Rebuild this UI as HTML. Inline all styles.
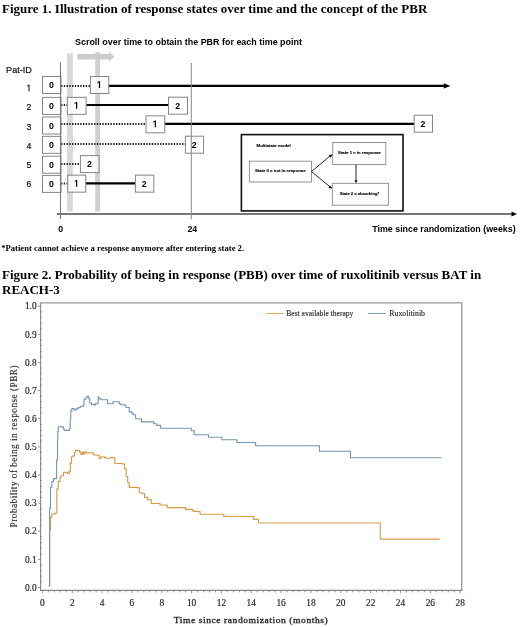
<!DOCTYPE html>
<html><head><meta charset="utf-8"><title>Figures</title>
<style>
html,body{margin:0;padding:0;background:#fff;width:520px;height:627px;overflow:hidden}
svg{display:block;will-change:transform}
.t1{font-family:"Liberation Serif",serif;font-weight:bold;font-size:13px;fill:#000}
.t2{font-family:"Liberation Serif",serif;font-weight:bold;fill:#000}
.tr{font-family:"Liberation Serif",serif;fill:#222}
.sb{font-family:"Liberation Sans",sans-serif;font-weight:bold;fill:#000}
.sr{font-family:"Liberation Sans",sans-serif}
</style></head>
<body>
<svg width="520" height="627" viewBox="0 0 520 627">
<rect width="520" height="627" fill="#fff"/>
<text x="2" y="12.7" class="t1">Figure 1. Illustration of response states over time and the concept of the PBR</text>
<text x="75" y="44.8" class="sb" font-size="8.95">Scroll over time to obtain the PBR for each time point</text>
<rect x="67" y="53.5" width="5.8" height="158" fill="#d9d9d9"/>
<rect x="95.2" y="52.3" width="4.9" height="159.2" fill="#d0d0d0"/>
<path d="M77.4 54 H108.7 V51.7 L114.4 56.7 L108.7 61.7 V59.5 H77.4 Z" fill="#cccccc"/>
<text transform="translate(6.1 72.7) scale(0.92 1)" class="sr" font-size="9.9" fill="#111" stroke="#111" stroke-width="0.22">Pat-ID</text>
<path d="M28.64 91.3 L28.64 85.44 L27.28 86.52 L27.28 85.71 L28.7 84.63 L29.41 84.63 L29.41 91.3 Z" fill="#111" stroke="#111" stroke-width="0.22"/>
<text transform="translate(31.3 110.4) scale(0.9 1)" class="sr" font-size="9.7" fill="#111" stroke="#111" stroke-width="0.22" text-anchor="end">2</text>
<text transform="translate(31.3 129.5) scale(0.9 1)" class="sr" font-size="9.7" fill="#111" stroke="#111" stroke-width="0.22" text-anchor="end">3</text>
<text transform="translate(31.3 148.6) scale(0.9 1)" class="sr" font-size="9.7" fill="#111" stroke="#111" stroke-width="0.22" text-anchor="end">4</text>
<text transform="translate(31.3 167.8) scale(0.9 1)" class="sr" font-size="9.7" fill="#111" stroke="#111" stroke-width="0.22" text-anchor="end">5</text>
<text transform="translate(31.3 186.8) scale(0.9 1)" class="sr" font-size="9.7" fill="#111" stroke="#111" stroke-width="0.22" text-anchor="end">6</text>
<line x1="57" y1="213.9" x2="512" y2="213.9" stroke="#777" stroke-width="2"/>
<path d="M511.5 211.4 L517 213.9 L511.5 216.5 Z" fill="#000"/>
<text x="60.8" y="232" class="sb" font-size="8.8" text-anchor="middle">0</text>
<text x="192.3" y="232.2" class="sb" font-size="8.8" text-anchor="middle">24</text>
<text x="372.3" y="231.7" class="sb" font-size="8.85">Time since randomization (weeks)</text>
<line x1="61" y1="85.9" x2="90.4" y2="85.9" stroke="#222" stroke-width="2" stroke-dasharray="1.4 1.35"/>
<line x1="108.8" y1="85.9" x2="445" y2="85.9" stroke="#000" stroke-width="2.2"/>
<line x1="61" y1="105" x2="67.3" y2="105" stroke="#222" stroke-width="2" stroke-dasharray="1.4 1.35"/>
<line x1="86.1" y1="105" x2="168.5" y2="105" stroke="#000" stroke-width="2.2"/>
<line x1="61" y1="123.9" x2="146" y2="123.9" stroke="#222" stroke-width="2" stroke-dasharray="1.4 1.35"/>
<line x1="164.8" y1="123.9" x2="414.2" y2="123.9" stroke="#000" stroke-width="2.2"/>
<line x1="61" y1="144.1" x2="185.4" y2="144.1" stroke="#222" stroke-width="2" stroke-dasharray="1.4 1.35"/>
<line x1="61" y1="164.1" x2="80.4" y2="164.1" stroke="#222" stroke-width="2" stroke-dasharray="1.4 1.35"/>
<line x1="61" y1="183.4" x2="67.7" y2="183.4" stroke="#222" stroke-width="2" stroke-dasharray="1.4 1.35"/>
<line x1="85.7" y1="183.4" x2="135.4" y2="183.4" stroke="#000" stroke-width="2.2"/>
<rect x="42.5" y="76.5" width="18.5" height="17" fill="#fff" fill-opacity="0.75" stroke="#858585" stroke-width="1"/>
<text transform="translate(51.45 88) scale(0.9 1)" class="sb" font-size="9.8" text-anchor="middle">0</text>
<rect x="90.4" y="76.5" width="18.4" height="17" fill="#fff" fill-opacity="0.75" stroke="#858585" stroke-width="1"/>
<path d="M98.91 88 L98.91 82.4 L97.45 83.41 L97.45 82.35 L98.97 81.26 L100.12 81.26 L100.12 88 Z" fill="#000"/>
<rect x="42.5" y="97.4" width="18.5" height="17" fill="#fff" fill-opacity="0.75" stroke="#858585" stroke-width="1"/>
<text transform="translate(51.45 108.9) scale(0.9 1)" class="sb" font-size="9.8" text-anchor="middle">0</text>
<rect x="67.3" y="97.35" width="18.8" height="17" fill="#fff" fill-opacity="0.75" stroke="#858585" stroke-width="1"/>
<path d="M76.01 108.85 L76.01 103.25 L74.55 104.26 L74.55 103.2 L76.07 102.11 L77.22 102.11 L77.22 108.85 Z" fill="#000"/>
<rect x="168.5" y="97.2" width="19" height="17" fill="#fff" fill-opacity="0.75" stroke="#858585" stroke-width="1"/>
<text transform="translate(177.7 108.7) scale(0.9 1)" class="sb" font-size="9.8" text-anchor="middle">2</text>
<rect x="42.5" y="117" width="18.5" height="17" fill="#fff" fill-opacity="0.75" stroke="#858585" stroke-width="1"/>
<text transform="translate(51.45 128.5) scale(0.9 1)" class="sb" font-size="9.8" text-anchor="middle">0</text>
<rect x="146" y="115.85" width="18.8" height="17" fill="#fff" fill-opacity="0.75" stroke="#858585" stroke-width="1"/>
<path d="M154.71 127.35 L154.71 121.75 L153.25 122.76 L153.25 121.7 L154.77 120.61 L155.92 120.61 L155.92 127.35 Z" fill="#000"/>
<rect x="414.2" y="115.2" width="18.3" height="17" fill="#fff" fill-opacity="0.75" stroke="#858585" stroke-width="1"/>
<text transform="translate(423.05 126.7) scale(0.9 1)" class="sb" font-size="9.8" text-anchor="middle">2</text>
<rect x="42.5" y="136.35" width="18.5" height="17" fill="#fff" fill-opacity="0.75" stroke="#858585" stroke-width="1"/>
<text transform="translate(51.45 147.85) scale(0.9 1)" class="sb" font-size="9.8" text-anchor="middle">0</text>
<rect x="185.4" y="136.2" width="18.2" height="17" fill="#fff" fill-opacity="0.75" stroke="#858585" stroke-width="1"/>
<text transform="translate(194.2 147.7) scale(0.9 1)" class="sb" font-size="9.8" text-anchor="middle">2</text>
<rect x="42.5" y="156.2" width="18.5" height="17" fill="#fff" fill-opacity="0.75" stroke="#858585" stroke-width="1"/>
<text transform="translate(51.45 167.7) scale(0.9 1)" class="sb" font-size="9.8" text-anchor="middle">0</text>
<rect x="80.4" y="155.6" width="18.6" height="17" fill="#fff" fill-opacity="0.75" stroke="#858585" stroke-width="1"/>
<text transform="translate(89.4 167.1) scale(0.9 1)" class="sb" font-size="9.8" text-anchor="middle">2</text>
<rect x="42.5" y="175.4" width="18.5" height="17" fill="#fff" fill-opacity="0.75" stroke="#858585" stroke-width="1"/>
<text transform="translate(51.45 186.9) scale(0.9 1)" class="sb" font-size="9.8" text-anchor="middle">0</text>
<rect x="67.7" y="175.15" width="18" height="17" fill="#fff" fill-opacity="0.75" stroke="#858585" stroke-width="1"/>
<path d="M76.01 186.65 L76.01 181.05 L74.55 182.06 L74.55 181 L76.07 179.91 L77.22 179.91 L77.22 186.65 Z" fill="#000"/>
<rect x="135.4" y="175.15" width="18.4" height="17" fill="#fff" fill-opacity="0.75" stroke="#858585" stroke-width="1"/>
<text transform="translate(144.3 186.65) scale(0.9 1)" class="sb" font-size="9.8" text-anchor="middle">2</text>
<line x1="60.5" y1="62.5" x2="60.5" y2="219" stroke="#777" stroke-width="1"/>
<line x1="191.3" y1="63" x2="191.3" y2="219.3" stroke="#888" stroke-width="1"/>
<path d="M443.8 83.2 L450.5 85.9 L443.8 88.6 Z" fill="#000"/>
<rect x="241.4" y="134.6" width="161.6" height="76.3" fill="#fff" stroke="#111" stroke-width="1.6"/>
<text transform="translate(256.6 147.4) scale(0.5)" class="sb" font-size="8.6" stroke="#000" stroke-width="0.25" textLength="68.2" lengthAdjust="spacingAndGlyphs">Multistate model</text>
<rect x="249.4" y="161.2" width="62.1" height="20.8" fill="none" stroke="#888" stroke-width="0.9"/>
<text transform="translate(254.9 172.4) scale(0.5)" class="sb" font-size="8.54" stroke="#000" stroke-width="0.25" textLength="101.4" lengthAdjust="spacingAndGlyphs">State 0 = not in response</text>
<rect x="332.7" y="142.5" width="53.1" height="22.1" fill="none" stroke="#888" stroke-width="0.9"/>
<text transform="translate(338.1 153.6) scale(0.5)" class="sb" font-size="8.5" stroke="#000" stroke-width="0.25" textLength="85.2" lengthAdjust="spacingAndGlyphs">State 1 = in response</text>
<rect x="332.3" y="183.3" width="56.3" height="21.9" fill="none" stroke="#888" stroke-width="0.9"/>
<text transform="translate(339.7 194.5) scale(0.5)" class="sb" font-size="8.3" stroke="#000" stroke-width="0.25" textLength="78.8" lengthAdjust="spacingAndGlyphs">State 2 = absorbing*</text>
<path d="M311.5 171.6 L330.5 155.6 M311.5 171.6 L330.5 187.2 M356 164.6 V181" stroke="#111" stroke-width="0.9" fill="none"/>
<path d="M332.7 154.2 L328.6 155.2 L330.6 157.8 Z M332.3 188.6 L330.4 185.4 L328.3 187.9 Z M356 183.3 L354.4 180.2 L357.6 180.2 Z" fill="#111"/>
<text x="1.2" y="250.8" class="t2" font-size="8.63">*Patient cannot achieve a response anymore after entering state 2.</text>
<text x="2" y="278.8" class="t1">Figure 2. Probability of being in response (PBB) over time of ruxolitinib versus BAT in</text>
<text x="2" y="294.3" class="t1">REACH-3</text>
<path d="M40.6 302.8 H461.8 V590.4" fill="none" stroke="#999" stroke-width="1.3"/>
<line x1="40.6" y1="302.8" x2="40.6" y2="590.9" stroke="#888" stroke-width="1.1"/>
<line x1="40.1" y1="590.4" x2="462.40000000000003" y2="590.4" stroke="#888" stroke-width="1.1"/>
<path d="M38 587.5 H40.6 M40 581.87 H41.8 M40 576.25 H41.8 M40 570.62 H41.8 M40 565 H41.8 M38 559.37 H40.6 M40 553.74 H41.8 M40 548.12 H41.8 M40 542.49 H41.8 M40 536.87 H41.8 M38 531.24 H40.6 M40 525.61 H41.8 M40 519.99 H41.8 M40 514.36 H41.8 M40 508.74 H41.8 M38 503.11 H40.6 M40 497.48 H41.8 M40 491.86 H41.8 M40 486.23 H41.8 M40 480.61 H41.8 M38 474.98 H40.6 M40 469.35 H41.8 M40 463.73 H41.8 M40 458.1 H41.8 M40 452.48 H41.8 M38 446.85 H40.6 M40 441.22 H41.8 M40 435.6 H41.8 M40 429.97 H41.8 M40 424.35 H41.8 M38 418.72 H40.6 M40 413.09 H41.8 M40 407.47 H41.8 M40 401.84 H41.8 M40 396.22 H41.8 M38 390.59 H40.6 M40 384.96 H41.8 M40 379.34 H41.8 M40 373.71 H41.8 M40 368.09 H41.8 M38 362.46 H40.6 M40 356.83 H41.8 M40 351.21 H41.8 M40 345.58 H41.8 M40 339.96 H41.8 M38 334.33 H40.6 M40 328.7 H41.8 M40 323.08 H41.8 M40 317.45 H41.8 M40 311.83 H41.8 M38 306.2 H40.6 M42.4 590.4 V593.2 M48.37 590.4 V592.4 M54.34 590.4 V592.4 M60.3 590.4 V592.4 M66.27 590.4 V592.4 M72.24 590.4 V593.2 M78.21 590.4 V592.4 M84.18 590.4 V592.4 M90.14 590.4 V592.4 M96.11 590.4 V592.4 M102.08 590.4 V593.2 M108.05 590.4 V592.4 M114.02 590.4 V592.4 M119.98 590.4 V592.4 M125.95 590.4 V592.4 M131.92 590.4 V593.2 M137.89 590.4 V592.4 M143.86 590.4 V592.4 M149.82 590.4 V592.4 M155.79 590.4 V592.4 M161.76 590.4 V593.2 M167.73 590.4 V592.4 M173.7 590.4 V592.4 M179.66 590.4 V592.4 M185.63 590.4 V592.4 M191.6 590.4 V593.2 M197.57 590.4 V592.4 M203.54 590.4 V592.4 M209.5 590.4 V592.4 M215.47 590.4 V592.4 M221.44 590.4 V593.2 M227.41 590.4 V592.4 M233.38 590.4 V592.4 M239.34 590.4 V592.4 M245.31 590.4 V592.4 M251.28 590.4 V593.2 M257.25 590.4 V592.4 M263.22 590.4 V592.4 M269.18 590.4 V592.4 M275.15 590.4 V592.4 M281.12 590.4 V593.2 M287.09 590.4 V592.4 M293.06 590.4 V592.4 M299.02 590.4 V592.4 M304.99 590.4 V592.4 M310.96 590.4 V593.2 M316.93 590.4 V592.4 M322.9 590.4 V592.4 M328.86 590.4 V592.4 M334.83 590.4 V592.4 M340.8 590.4 V593.2 M346.77 590.4 V592.4 M352.74 590.4 V592.4 M358.7 590.4 V592.4 M364.67 590.4 V592.4 M370.64 590.4 V593.2 M376.61 590.4 V592.4 M382.58 590.4 V592.4 M388.54 590.4 V592.4 M394.51 590.4 V592.4 M400.48 590.4 V593.2 M406.45 590.4 V592.4 M412.42 590.4 V592.4 M418.38 590.4 V592.4 M424.35 590.4 V592.4 M430.32 590.4 V593.2 M436.29 590.4 V592.4 M442.26 590.4 V592.4 M448.22 590.4 V592.4 M454.19 590.4 V592.4 M460.16 590.4 V593.2" stroke="#777" stroke-width="0.8" fill="none"/>
<text x="36.6" y="590.7" class="tr" font-size="9.4" text-anchor="end" stroke="#222" stroke-width="0.15">0.0</text>
<text x="36.6" y="562.57" class="tr" font-size="9.4" text-anchor="end" stroke="#222" stroke-width="0.15">0.1</text>
<text x="36.6" y="534.44" class="tr" font-size="9.4" text-anchor="end" stroke="#222" stroke-width="0.15">0.2</text>
<text x="36.6" y="506.31" class="tr" font-size="9.4" text-anchor="end" stroke="#222" stroke-width="0.15">0.3</text>
<text x="36.6" y="478.18" class="tr" font-size="9.4" text-anchor="end" stroke="#222" stroke-width="0.15">0.4</text>
<text x="36.6" y="450.05" class="tr" font-size="9.4" text-anchor="end" stroke="#222" stroke-width="0.15">0.5</text>
<text x="36.6" y="421.92" class="tr" font-size="9.4" text-anchor="end" stroke="#222" stroke-width="0.15">0.6</text>
<text x="36.6" y="393.79" class="tr" font-size="9.4" text-anchor="end" stroke="#222" stroke-width="0.15">0.7</text>
<text x="36.6" y="365.66" class="tr" font-size="9.4" text-anchor="end" stroke="#222" stroke-width="0.15">0.8</text>
<text x="36.6" y="337.53" class="tr" font-size="9.4" text-anchor="end" stroke="#222" stroke-width="0.15">0.9</text>
<text x="36.6" y="309.4" class="tr" font-size="9.4" text-anchor="end" stroke="#222" stroke-width="0.15">1.0</text>
<text x="42.4" y="605.6" class="tr" font-size="9.4" text-anchor="middle" stroke="#222" stroke-width="0.15">0</text>
<text x="72.24" y="605.6" class="tr" font-size="9.4" text-anchor="middle" stroke="#222" stroke-width="0.15">2</text>
<text x="102.08" y="605.6" class="tr" font-size="9.4" text-anchor="middle" stroke="#222" stroke-width="0.15">4</text>
<text x="131.92" y="605.6" class="tr" font-size="9.4" text-anchor="middle" stroke="#222" stroke-width="0.15">6</text>
<text x="161.76" y="605.6" class="tr" font-size="9.4" text-anchor="middle" stroke="#222" stroke-width="0.15">8</text>
<text x="191.6" y="605.6" class="tr" font-size="9.4" text-anchor="middle" stroke="#222" stroke-width="0.15">10</text>
<text x="221.44" y="605.6" class="tr" font-size="9.4" text-anchor="middle" stroke="#222" stroke-width="0.15">12</text>
<text x="251.28" y="605.6" class="tr" font-size="9.4" text-anchor="middle" stroke="#222" stroke-width="0.15">14</text>
<text x="281.12" y="605.6" class="tr" font-size="9.4" text-anchor="middle" stroke="#222" stroke-width="0.15">16</text>
<text x="310.96" y="605.6" class="tr" font-size="9.4" text-anchor="middle" stroke="#222" stroke-width="0.15">18</text>
<text x="340.8" y="605.6" class="tr" font-size="9.4" text-anchor="middle" stroke="#222" stroke-width="0.15">20</text>
<text x="370.64" y="605.6" class="tr" font-size="9.4" text-anchor="middle" stroke="#222" stroke-width="0.15">22</text>
<text x="400.48" y="605.6" class="tr" font-size="9.4" text-anchor="middle" stroke="#222" stroke-width="0.15">24</text>
<text x="430.32" y="605.6" class="tr" font-size="9.4" text-anchor="middle" stroke="#222" stroke-width="0.15">26</text>
<text x="460.16" y="605.6" class="tr" font-size="9.4" text-anchor="middle" stroke="#222" stroke-width="0.15">28</text>
<text x="173.8" y="622.6" class="tr" font-size="8.8" letter-spacing="0.5" stroke="#222" stroke-width="0.3" textLength="154.5" lengthAdjust="spacingAndGlyphs">Time since randomization (months)</text>
<text transform="translate(16.5 527.4) rotate(-90)" class="tr" font-size="9.3" textLength="162" lengthAdjust="spacing" stroke="#222" stroke-width="0.1">Probability of being in response (PBR)</text>
<line x1="266.1" y1="313.5" x2="283.4" y2="313.5" stroke="#dcae62" stroke-width="1"/>
<text x="286.3" y="316.4" class="tr" font-size="7.56" stroke="#222" stroke-width="0.12">Best available therapy</text>
<line x1="368.2" y1="313.5" x2="385.9" y2="313.5" stroke="#7fa2bb" stroke-width="1"/>
<text x="389.3" y="316.4" class="tr" font-size="7.85" stroke="#222" stroke-width="0.12">Ruxolitinib</text>
<polyline points="48.6,585.8 49.6,585.8 49.6,530 50.5,530 50.5,516.9 51.9,516.9 51.9,514 55.3,514 55.3,513 56.8,513 56.8,489.1 58.2,489.1 58.2,481.5 60,481.5 60,477.5 61,477.5 61,475.7 63.5,475.7 63.5,472.3 66.3,472.3 67.5,472.3 67.5,473.5 69.2,473.5 69.2,471.2 70.4,471.2 70.4,463.1 71.5,463.1 71.5,456.7 73.3,456.7 73.3,455.6 74.4,455.6 74.4,452.7 75.6,452.7 75.6,450.4 77.9,450.4 77.9,450.2 79.6,450.2 79.6,452.1 80.8,452.1 80.8,454.4 82.5,454.4 82.5,452.1 83.7,452.1 83.7,453.8 84.8,453.8 84.8,452.1 86.5,452.1 86.5,452.9 92.3,452.9 93.5,452.9 93.5,455 96.9,455 96.9,455.2 99.2,455.2 99.2,458.5 101,458.5 101,456.7 104.4,456.7 104.4,457.3 105.6,457.3 105.6,458.2 109.6,458.2 110.8,458.2 110.8,457.3 113.8,457.3 113.8,458.1 114.9,458.1 114.9,463.5 122.3,463.5 122.3,463.9 124.6,463.9 124.6,468.8 126.2,468.8 126.2,476.5 127.7,476.5 127.7,482.7 129.2,482.7 129.2,487.3 136.9,487.3 136.9,487.6 139.2,487.6 139.2,492.7 142.3,492.7 142.3,493.5 144.6,493.5 144.6,497.3 147.7,497.3 147.7,499.6 150.8,499.6 150.8,499.9 151.2,499.9 151.2,503.5 159.2,503.5 160,503.5 160,505 166.2,505 166.2,505.3 167.2,505.3 167.2,507.6 184.8,507.6 185.4,507.6 185.4,509.4 192.5,509.4 192.5,510 193.1,510 193.1,511.3 199.2,511.3 199.2,511.7 200.2,511.7 200.2,514.2 223.5,514.2 223.8,514.2 223.8,516.5 253.3,516.5 253.7,516.5 253.7,519.4 258.1,519.4 258.1,520 258.5,520 258.5,523 380.2,523 380.2,539.1 439.6,539.1" fill="none" stroke="#d69d4c" stroke-width="1.15" stroke-linejoin="miter"/>
<polyline points="48.6,585.8 49.6,585.8 49.6,508.3 50.5,508.3 50.5,487.2 51.9,487.2 51.9,481.5 53.4,481.5 53.4,478.6 56.3,478.6 56.3,478 56.6,478 56.6,460 57.5,460 57.5,440 57.8,440 57.8,431.5 58.3,431.5 58.3,426.7 62.1,426.7 62.1,426.9 63.3,426.9 63.3,429.2 64.4,429.2 64.4,430.4 67.9,430.4 69.4,430.4 69.4,428.7 70.2,428.7 70.2,418.8 70.8,418.8 70.8,410.8 71.9,410.8 71.9,408.5 73.7,408.5 73.7,409 74.8,409 74.8,410.2 76,410.2 76,409 77.7,409 77.7,407.9 79.4,407.9 79.4,407.3 80.6,407.3 80.6,406.2 82.3,406.2 83.5,406.2 83.5,405 84,405 84,399.2 85.2,399.2 85.2,398.7 86.3,398.7 86.3,396.9 87.5,396.9 87.5,396.3 88.7,396.3 88.7,398.7 89.8,398.7 89.8,402.7 91.5,402.7 91.5,404.4 94.4,404.4 94.4,405 95.6,405 95.6,403.8 97.3,403.8 97.3,403.3 98.2,403.3 98.2,396.9 99,396.9 99,398.7 100.8,398.7 100.8,399.8 105.8,399.8 107.7,399.8 107.7,403.7 111.9,403.7 113.1,403.7 113.1,401.7 117.3,401.7 119.2,401.7 119.2,403.7 120.8,403.7 120.8,404.8 124.6,404.8 124.6,405.2 126,405.2 126,407.5 127.9,407.5 129.2,407.5 129.2,411.9 131.7,411.9 131.7,412.9 133.1,412.9 133.1,414.8 135.6,414.8 135.6,418.7 139.4,418.7 141.3,418.7 141.3,421.9 151.9,421.9 153.8,421.9 153.8,423.8 156.7,423.8 156.7,425.4 160.6,425.4 160.6,428.3 189.4,428.3 191.3,428.3 191.3,430.8 194.2,430.8 194.2,434.8 208.5,434.8 208.5,437.3 221.9,437.3 221.9,439.8 236.9,439.8 236.9,442.5 255.6,442.5 255.6,445.8 319.5,445.8 319.5,451.2 350.5,451.2 350.5,457.7 441.3,457.7" fill="none" stroke="#7396b0" stroke-width="1.1" stroke-linejoin="miter"/>
</svg>
</body></html>
